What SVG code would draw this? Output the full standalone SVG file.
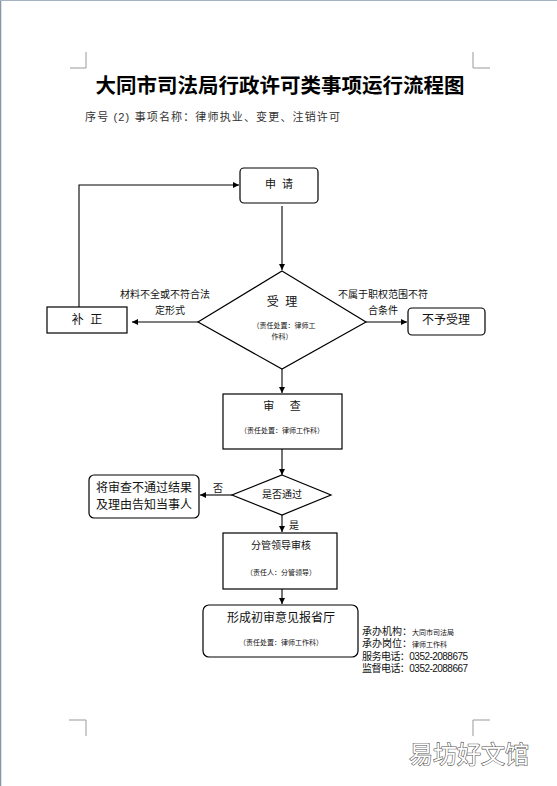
<svg xmlns="http://www.w3.org/2000/svg" width="557" height="786" viewBox="0 0 557 786">
<defs>
<marker id="ah" viewBox="0 0 8 8" refX="8" refY="4" markerWidth="6" markerHeight="6" orient="auto" markerUnits="userSpaceOnUse">
<path d="M0,0 L8,4 L0,8 Z" fill="#000"/>
</marker>
<style>
text{font-family:"Liberation Sans","Noto Sans CJK SC",sans-serif;fill:#111;text-anchor:middle}
.box{fill:#fff;stroke:#000;stroke-width:1.2}
.ln{fill:none;stroke:#000;stroke-width:1.1}
.crn{fill:none;stroke:#999;stroke-width:1}
.s7{font-size:7px}
.s10{font-size:10px}
.s11{font-size:11px}
.s12{font-size:12px}
.info{font-size:10px;text-anchor:start}
</style>
</defs>
<rect width="557" height="786" fill="#fff"/>
<line x1="0.5" y1="0" x2="0.5" y2="786" stroke="#8596a8" stroke-width="1.5"/>
<line x1="0" y1="0.5" x2="557" y2="0.5" stroke="#a5b2c0" stroke-width="1"/>
<g id="corners">
<path class="crn" d="M70,68 H86 V52"/>
<path class="crn" d="M490,68 H473 V52"/>
<path class="crn" d="M69,720 H86 V736"/>
<path class="crn" d="M490,720 H473 V736"/>
</g>
<text x="280" y="93" style="font-size:20.5px;font-weight:bold;font-family:'Noto Sans CJK SC',sans-serif;fill:#000">大同市司法局行政许可类事项运行流程图</text>
<text x="85" y="121" class="s11" style="text-anchor:start;fill:#333" textLength="255">序号 (2) 事项名称：律师执业、变更、注销许可</text>
<g id="connectors">
<line class="ln" x1="282" y1="206" x2="282" y2="270" marker-end="url(#ah)"/>
<path class="ln" d="M79,307 V185 H239" marker-end="url(#ah)"/>
<line class="ln" x1="198" y1="322" x2="132" y2="322" marker-end="url(#ah)"/>
<line class="ln" x1="366" y1="322" x2="407" y2="322" marker-end="url(#ah)"/>
<line class="ln" x1="282" y1="369" x2="282" y2="393" marker-end="url(#ah)"/>
<line class="ln" x1="282" y1="449" x2="282" y2="475" marker-end="url(#ah)"/>
<line class="ln" x1="232" y1="495" x2="200" y2="495" marker-end="url(#ah)"/>
<line class="ln" x1="282" y1="515" x2="282" y2="532" marker-end="url(#ah)"/>
<line class="ln" x1="282" y1="589" x2="282" y2="604" marker-end="url(#ah)"/>
<text x="165" y="298" class="s10">材料不全或不符合法</text>
<text x="170" y="314" class="s10">定形式</text>
<text x="383" y="298" class="s10">不属于职权范围不符</text>
<text x="383" y="314" class="s10">合条件</text>
<text x="218" y="492" class="s10">否</text>
<text x="294" y="529" class="s10">是</text>
</g>
<g id="n-apply">
<rect class="box" x="240" y="168" width="78" height="35" rx="4"/>
<text x="279" y="188" class="s11" xml:space="preserve">申  请</text>
</g>
<g id="n-accept">
<polygon class="box" points="282,271 366,322 282,369 198,322"/>
<text x="282" y="306" class="s12" xml:space="preserve">受  理</text>
<text x="284" y="328" class="s7">（责任处置：律师工</text>
<text x="282" y="339" class="s7">作科）</text>
</g>
<g id="n-correct">
<rect class="box" x="47" y="307" width="80" height="26"/>
<text x="87" y="324" class="s12" xml:space="preserve">补  正</text>
</g>
<g id="n-reject">
<rect class="box" x="408" y="308" width="77" height="27" rx="4"/>
<text x="446" y="324" class="s12">不予受理</text>
</g>
<g id="n-review">
<rect class="box" x="223" y="394" width="119" height="55"/>
<text x="282" y="410" class="s11" xml:space="preserve">审     查</text>
<text x="282" y="433" class="s7">（责任处置：律师工作科）</text>
</g>
<g id="n-pass">
<polygon class="box" points="282,475 331,495 282,515 232,495"/>
<text x="282" y="498" class="s10">是否通过</text>
</g>
<g id="n-notify">
<rect class="box" x="89" y="475" width="110" height="43" rx="5"/>
<text x="144" y="492" class="s12">将审查不通过结果</text>
<text x="144" y="509" class="s12">及理由告知当事人</text>
</g>
<g id="n-leader">
<rect class="box" x="223" y="533" width="114" height="56"/>
<text x="281" y="549" class="s10">分管领导审核</text>
<text x="281" y="575" class="s7">（责任人：分管领导）</text>
</g>
<g id="n-report">
<rect class="box" x="203" y="605" width="155" height="52" rx="6"/>
<text x="281" y="622" class="s12">形成初审意见报省厅</text>
<text x="281" y="645" class="s7">（责任处置：律师工作科）</text>
</g>
<g id="info">
<text x="362" y="635" class="info">承办机构：<tspan style="font-size:7px">大同市司法局</tspan></text>
<text x="362" y="647" class="info">承办岗位：<tspan style="font-size:7px">律师工作科</tspan></text>
<text x="362" y="660" class="info" textLength="106">服务电话：0352-2088675</text>
<text x="362" y="672" class="info" textLength="106">监督电话：0352-2088667</text>
</g>
<text x="469" y="763" style="font-size:24px;fill:#fff;stroke:#555;stroke-width:1.2;paint-order:stroke;font-family:'Noto Sans CJK SC',sans-serif">易坊好文馆</text>
</svg>
